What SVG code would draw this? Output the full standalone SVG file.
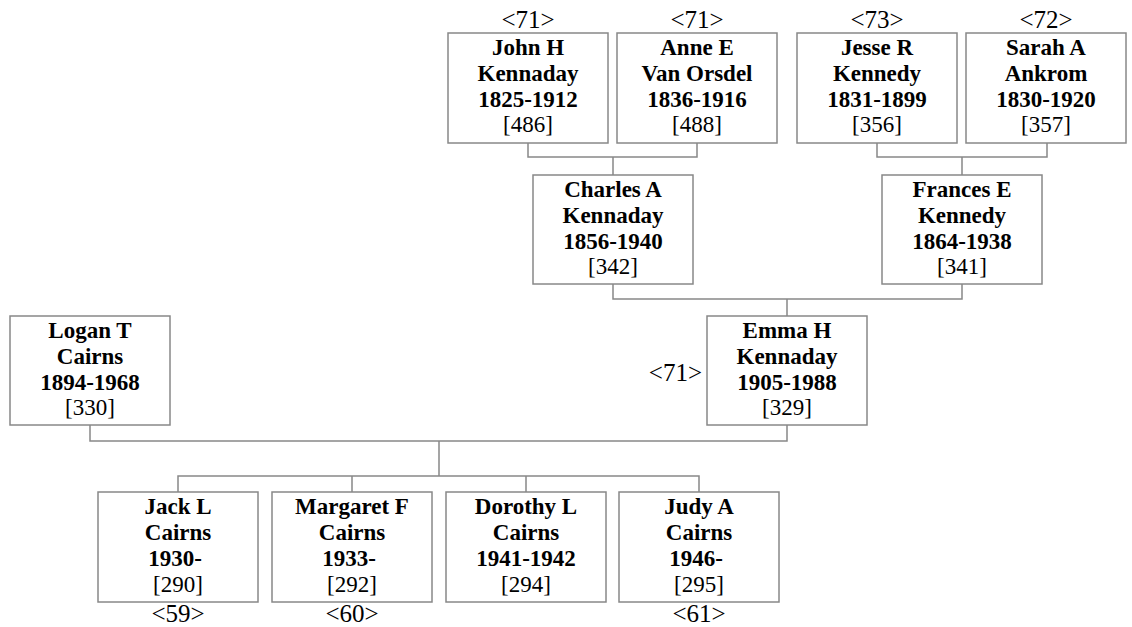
<svg xmlns="http://www.w3.org/2000/svg" width="1132" height="627" viewBox="0 0 1132 627">
<style>
.box{fill:#fff;stroke:#888;stroke-width:1.5}
.ln{fill:none;stroke:#888;stroke-width:1.5}
.t{font-family:'Times New Roman','Liberation Serif','DejaVu Serif',serif;font-size:23px;fill:#000;text-anchor:middle}
.b{font-weight:bold}
.lbl{font-size:25px}
</style>
<rect width="1132" height="627" fill="#fff"/>
<g id="connectors">
<path class="ln" d="M528 143V157H697V143M613 157V175"/>
<path class="ln" d="M877 143V157H1047V143M962 157V175"/>
<path class="ln" d="M613 284V299H962V284M787 299V316"/>
<path class="ln" d="M90 425V441H787V425M439 441V476"/>
<path class="ln" d="M178 492V476H699V492M352 476V492M526 476V492"/>
</g>
<g class="t" font-family="'Times New Roman','Liberation Serif',serif">
<g id="john">
<rect class="box" x="448" y="33" width="160" height="110"/>
<text x="528" y="28" class="lbl">&lt;71&gt;</text>
<text x="528" y="55" class="b">John H</text>
<text x="528" y="81" class="b">Kennaday</text>
<text x="528" y="107" class="b">1825-1912</text>
<text x="528" y="132">[486]</text>
</g>
<g id="anne">
<rect class="box" x="617" y="33" width="160" height="110"/>
<text x="697" y="28" class="lbl">&lt;71&gt;</text>
<text x="697" y="55" class="b">Anne E</text>
<text x="697" y="81" class="b">Van Orsdel</text>
<text x="697" y="107" class="b">1836-1916</text>
<text x="697" y="132">[488]</text>
</g>
<g id="jesse">
<rect class="box" x="797" y="33" width="160" height="110"/>
<text x="877" y="28" class="lbl">&lt;73&gt;</text>
<text x="877" y="55" class="b">Jesse R</text>
<text x="877" y="81" class="b">Kennedy</text>
<text x="877" y="107" class="b">1831-1899</text>
<text x="877" y="132">[356]</text>
</g>
<g id="sarah">
<rect class="box" x="966" y="33" width="160" height="110"/>
<text x="1046" y="28" class="lbl">&lt;72&gt;</text>
<text x="1046" y="55" class="b">Sarah A</text>
<text x="1046" y="81" class="b">Ankrom</text>
<text x="1046" y="107" class="b">1830-1920</text>
<text x="1046" y="132">[357]</text>
</g>
<g id="charles">
<rect class="box" x="533" y="175" width="160" height="109"/>
<text x="613" y="197" class="b">Charles A</text>
<text x="613" y="223" class="b">Kennaday</text>
<text x="613" y="249" class="b">1856-1940</text>
<text x="613" y="274">[342]</text>
</g>
<g id="frances">
<rect class="box" x="882" y="175" width="160" height="109"/>
<text x="962" y="197" class="b">Frances E</text>
<text x="962" y="223" class="b">Kennedy</text>
<text x="962" y="249" class="b">1864-1938</text>
<text x="962" y="274">[341]</text>
</g>
<g id="logan">
<rect class="box" x="10" y="316" width="160" height="109"/>
<text x="90" y="338" class="b">Logan T</text>
<text x="90" y="364" class="b">Cairns</text>
<text x="90" y="390" class="b">1894-1968</text>
<text x="90" y="415">[330]</text>
</g>
<g id="emma">
<rect class="box" x="707" y="316" width="160" height="109"/>
<text x="702" y="381" class="lbl" style="text-anchor:end">&lt;71&gt;</text>
<text x="787" y="338" class="b">Emma H</text>
<text x="787" y="364" class="b">Kennaday</text>
<text x="787" y="390" class="b">1905-1988</text>
<text x="787" y="415">[329]</text>
</g>
<g id="jack">
<rect class="box" x="98" y="492" width="160" height="110"/>
<text x="178" y="514" class="b">Jack L</text>
<text x="178" y="540" class="b">Cairns</text>
<text x="175" y="566" class="b">1930-</text>
<text x="178" y="592">[290]</text>
<text x="178" y="622" class="lbl">&lt;59&gt;</text>
</g>
<g id="margaret">
<rect class="box" x="272" y="492" width="160" height="110"/>
<text x="352" y="514" class="b">Margaret F</text>
<text x="352" y="540" class="b">Cairns</text>
<text x="349" y="566" class="b">1933-</text>
<text x="352" y="592">[292]</text>
<text x="352" y="622" class="lbl">&lt;60&gt;</text>
</g>
<g id="dorothy">
<rect class="box" x="446" y="492" width="160" height="110"/>
<text x="526" y="514" class="b">Dorothy L</text>
<text x="526" y="540" class="b">Cairns</text>
<text x="526" y="566" class="b">1941-1942</text>
<text x="526" y="592">[294]</text>
</g>
<g id="judy">
<rect class="box" x="619" y="492" width="160" height="110"/>
<text x="699" y="514" class="b">Judy A</text>
<text x="699" y="540" class="b">Cairns</text>
<text x="696" y="566" class="b">1946-</text>
<text x="699" y="592">[295]</text>
<text x="699" y="622" class="lbl">&lt;61&gt;</text>
</g>
</g>
</svg>
